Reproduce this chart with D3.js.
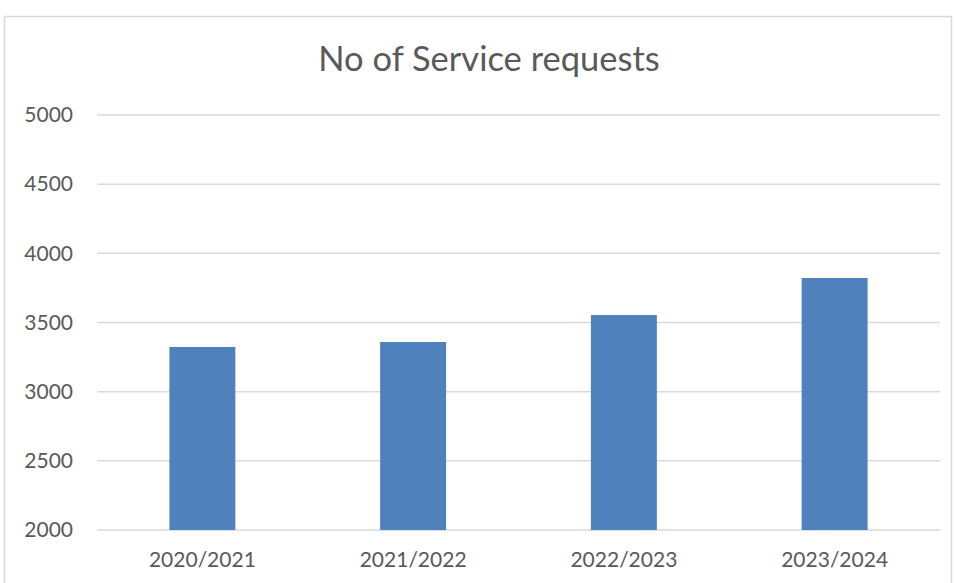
<!DOCTYPE html>
<html>
<head>
<meta charset="utf-8">
<script src="https://cdn.jsdelivr.net/npm/d3@7"></script>
<style>
  html, body { margin: 0; padding: 0; background: #fff; }
  svg { display: block; }
</style>
</head>
<body>
<svg id="chart" width="955" height="583"></svg>
<script>
const categories = ["2020/2021", "2021/2022", "2022/2023", "2023/2024"];
const requests = [3323, 3359, 3554, 3822];
const yTicks = [2000, 2500, 3000, 3500, 4000, 4500, 5000];
const title = "No of Service requests";

const svg = d3.select("#chart");
const W = 955, H = 583;
const margin = { left: 97, right: 15, top: 115, bottom: 53 };
const font = "Lato, 'Open Sans', sans-serif";

// chart frame
svg.append("rect")
  .attr("x", 4.5).attr("y", 16.5)
  .attr("width", 947).attr("height", 580)
  .attr("fill", "#fff").attr("stroke", "#d9d9d9").attr("stroke-width", 1.5);

const x = d3.scaleBand()
  .domain(categories)
  .range([margin.left, W - margin.right])
  .paddingInner(0.687).paddingOuter(0.3435);

const y = d3.scaleLinear()
  .domain([2000, 5000])
  .range([H - margin.bottom, margin.top]);

// gridlines
svg.append("g")
  .selectAll("line")
  .data(yTicks)
  .join("line")
  .attr("x1", margin.left).attr("x2", W - margin.right)
  .attr("y1", d => y(d)).attr("y2", d => y(d))
  .attr("stroke", "#d9d9d9").attr("stroke-width", 1.5);

// y axis labels
const yAxis = d3.axisLeft(y).tickValues(yTicks).tickFormat(d3.format("d")).tickSize(0).tickPadding(24);
const yg = svg.append("g").attr("transform", `translate(${margin.left},0)`).call(yAxis);
yg.select(".domain").remove();
yg.selectAll("text").attr("font-family", font).attr("font-size", 21).attr("fill", "#595959");

// bars
svg.append("g")
  .selectAll("rect")
  .data(categories)
  .join("rect")
  .attr("x", d => x(d))
  .attr("width", x.bandwidth())
  .attr("y", (d, i) => y(requests[i]))
  .attr("height", (d, i) => y(2000) - y(requests[i]))
  .attr("fill", "#4f81bd");

// x axis labels
const xAxis = d3.axisBottom(x).tickSize(0).tickPadding(22);
const xg = svg.append("g").attr("transform", `translate(0,${H - margin.bottom})`).call(xAxis);
xg.select(".domain").remove();
xg.selectAll("text").attr("font-family", font).attr("font-size", 21).attr("fill", "#595959");

// title
svg.append("text")
  .attr("x", 489).attr("y", 71)
  .attr("text-anchor", "middle")
  .attr("font-family", font).attr("font-size", 34.5)
  .attr("fill", "#595959")
  .text(title);
</script>
</body>
</html>
